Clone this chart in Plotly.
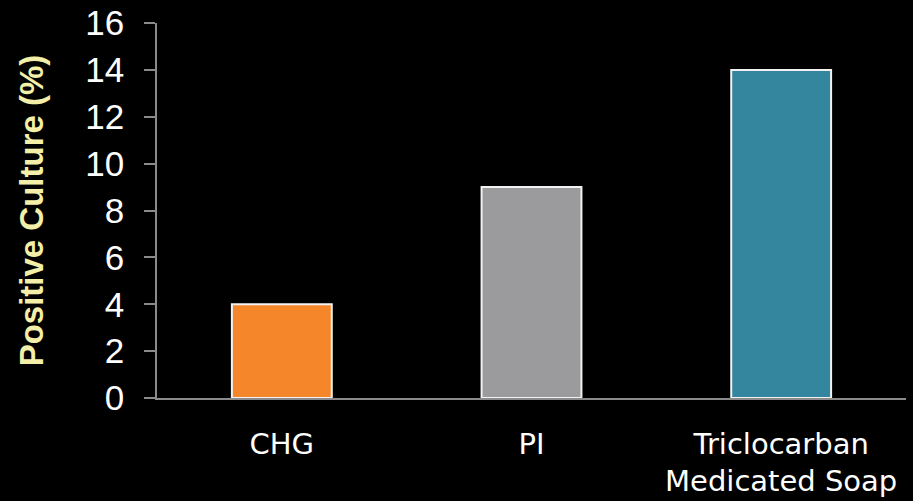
import plotly.graph_objects as go

categories = ["CHG", "PI", "Triclocarban<br>Medicated Soap"]
positive_culture = [4, 9, 14]
bar_colors = ["#F6862A", "#9B9B9D", "#33869E"]
y_ticks = [0, 2, 4, 6, 8, 10, 12, 14, 16]

fig = go.Figure(
    go.Bar(
        x=categories,
        y=positive_culture,
        marker=dict(color=bar_colors, line=dict(color="#F2F2F2", width=2)),
        width=0.4,
    )
)

fig.update_layout(
    width=913,
    height=501,
    paper_bgcolor="black",
    plot_bgcolor="black",
    margin=dict(l=157, r=7, t=23, b=103),
    showlegend=False,
    font=dict(family="Liberation Sans, Arial, sans-serif", color="white"),
)

fig.update_yaxes(
    range=[0, 16],
    tickvals=y_ticks,
    ticktext=[str(v) for v in y_ticks],
    showgrid=False,
    zeroline=False,
    showline=True,
    linecolor="#8A8A8A",
    linewidth=1.5,
    ticks="outside",
    ticklen=11,
    tickcolor="#8A8A8A",
    tickwidth=1.5,
    automargin=False,
    ticklabelstandoff=13,
    tickfont=dict(size=35, color="white", family="Liberation Sans, Arial, sans-serif"),
    title=dict(
        text="<b>Positive Culture (%)</b>",
        font=dict(size=33, color="#F3EFA8", family="Liberation Sans, Arial, sans-serif"),
        standoff=32,
    ),
)

fig.update_xaxes(
    showgrid=False,
    showline=True,
    linecolor="#8A8A8A",
    linewidth=1.5,
    ticks="",
    automargin=False,
    ticklabelstandoff=19,
    tickfont=dict(size=29, color="white", family="DejaVu Sans, sans-serif"),
)

fig.write_html("out.html")
